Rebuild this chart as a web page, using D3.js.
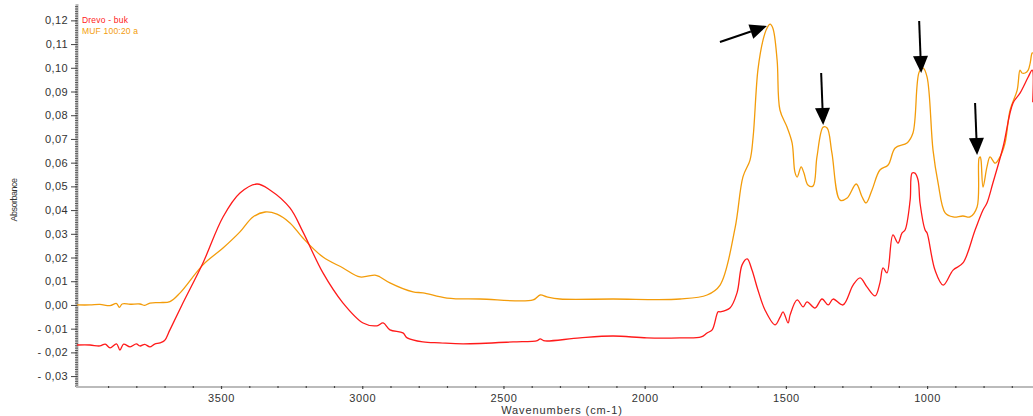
<!DOCTYPE html>
<html>
<head>
<meta charset="utf-8">
<script src="https://cdn.jsdelivr.net/npm/d3@7"></script>
<style>
  html, body { margin: 0; padding: 0; background: #fff; }
  svg { display: block; }
  text { font-family: "Liberation Sans", Arial, sans-serif; }
</style>
</head>
<body>
<svg id="chart" width="1033" height="416"></svg>
<script>
// IR spectra: wavenumber (cm-1) and absorbance
const seriesNames = ["Drevo - buk", "MUF 100:20 a"];
const seriesColors = ["#ff1a1a", "#f39c0a"];

const bukWavenumber = [4010, 3964, 3929, 3910, 3893, 3870, 3858, 3845, 3822, 3800, 3787, 3770, 3752, 3735, 3716, 3700, 3681, 3635, 3564, 3493, 3433, 3373, 3327, 3256, 3210, 3139, 3068, 2997, 2948, 2926, 2902, 2856, 2841, 2785, 2725, 2643, 2466, 2380, 2370, 2358, 2346, 2229, 2112, 1992, 1875, 1800, 1779, 1761, 1740, 1733, 1698, 1673, 1655, 1637, 1620, 1599, 1574, 1538, 1520, 1510, 1492, 1485, 1460, 1439, 1425, 1397, 1372, 1350, 1333, 1298, 1262, 1237, 1213, 1184, 1167, 1156, 1142, 1121, 1103, 1089, 1078, 1060, 1053, 1043, 1032, 1025, 1007, 1000, 972, 943, 908, 873, 830, 802, 788, 767, 731, 696, 671, 642, 628, 626];
const bukAbsorbance = [-0.0169, -0.0169, -0.0173, -0.0165, -0.0181, -0.0164, -0.0190, -0.0165, -0.0177, -0.0164, -0.0173, -0.0166, -0.0177, -0.0165, -0.0160, -0.0150, -0.0105, 0.0008, 0.0177, 0.0371, 0.0472, 0.0510, 0.0485, 0.0409, 0.0308, 0.0135, 0.0008, -0.0076, -0.0088, -0.0076, -0.0105, -0.0118, -0.0139, -0.0156, -0.0160, -0.0164, -0.0156, -0.0150, -0.0143, -0.0150, -0.0152, -0.0139, -0.0131, -0.0139, -0.0139, -0.0135, -0.0118, -0.0105, -0.0029, -0.0029, -0.0013, 0.0051, 0.0169, 0.0194, 0.0147, 0.0063, -0.0021, -0.0084, -0.0050, -0.0029, -0.0076, -0.0042, 0.0021, -0.0008, 0.0013, -0.0013, 0.0025, 0.0000, 0.0025, 0.0000, 0.0084, 0.0114, 0.0076, 0.0038, 0.0093, 0.0156, 0.0135, 0.0295, 0.0261, 0.0303, 0.0316, 0.0442, 0.0556, 0.0556, 0.0527, 0.0430, 0.0316, 0.0303, 0.0147, 0.0084, 0.0147, 0.0177, 0.0316, 0.0400, 0.0430, 0.0514, 0.0666, 0.0851, 0.0893, 0.0961, 0.0990, 0.0855];

const mufWavenumber = [4010, 3964, 3929, 3893, 3870, 3860, 3850, 3822, 3787, 3770, 3752, 3716, 3681, 3645, 3564, 3493, 3433, 3387, 3344, 3302, 3256, 3210, 3139, 3068, 3008, 2955, 2937, 2902, 2820, 2785, 2700, 2583, 2395, 2370, 2346, 2300, 2112, 1875, 1779, 1733, 1680, 1652, 1627, 1616, 1599, 1581, 1567, 1556, 1546, 1531, 1521, 1496, 1478, 1468, 1460, 1446, 1436, 1422, 1404, 1390, 1368, 1354, 1337, 1308, 1283, 1251, 1230, 1216, 1195, 1167, 1138, 1113, 1071, 1050, 1028, 1014, 1000, 979, 961, 936, 908, 873, 848, 823, 816, 812, 809, 802, 788, 777, 759, 742, 724, 706, 681, 671, 664, 653, 642, 635, 628, 625];
const mufAbsorbance = [0.0000, 0.0000, 0.0002, -0.0003, 0.0006, -0.0010, 0.0004, 0.0003, 0.0004, -0.0002, 0.0008, 0.0010, 0.0014, 0.0051, 0.0169, 0.0240, 0.0308, 0.0371, 0.0392, 0.0383, 0.0346, 0.0282, 0.0202, 0.0156, 0.0118, 0.0126, 0.0118, 0.0093, 0.0055, 0.0051, 0.0029, 0.0025, 0.0021, 0.0042, 0.0034, 0.0025, 0.0025, 0.0025, 0.0042, 0.0084, 0.0324, 0.0540, 0.0611, 0.0708, 0.0991, 0.1117, 0.1167, 0.1184, 0.1167, 0.1032, 0.0822, 0.0750, 0.0683, 0.0560, 0.0539, 0.0582, 0.0556, 0.0506, 0.0501, 0.0624, 0.0750, 0.0746, 0.0641, 0.0442, 0.0451, 0.0510, 0.0455, 0.0430, 0.0485, 0.0569, 0.0590, 0.0662, 0.0683, 0.0725, 0.0982, 0.0999, 0.0961, 0.0653, 0.0514, 0.0388, 0.0371, 0.0375, 0.0371, 0.0413, 0.0619, 0.0624, 0.0611, 0.0497, 0.0582, 0.0624, 0.0598, 0.0624, 0.0683, 0.0822, 0.0906, 0.0990, 0.0978, 0.0978, 0.0990, 0.1020, 0.1062, 0.1062];

// Peaks marked with arrows (tip position in data units)
const arrowWavenumber = [1567, 1368, 1021, 823];
const arrowAbsorbance = [0.1176, 0.0759, 0.0978, 0.0632];

// Axis ticks
const yTickValues = [0.12, 0.11, 0.10, 0.09, 0.08, 0.07, 0.06, 0.05, 0.04, 0.03, 0.02, 0.01, 0.00, -0.01, -0.02, -0.03];
const xTickValues = [3500, 3000, 2500, 2000, 1500, 1000];

const svg = d3.select("#chart");
const plotLeft = 77, plotRight = 1033, plotTop = 4, plotBottom = 387;

const x = d3.scaleLinear().domain([4010, 625]).range([plotLeft, plotRight]);
const y = d3.scaleLinear().domain([-0.0346, 0.1269]).range([plotBottom, plotTop]);

const commaFmt = d3.formatLocale({ decimal: ",", thousands: ".", grouping: [3], currency: ["", ""], minus: "-" }).format(".2f");

// clip the spectra to the plot area
svg.append("defs").append("clipPath").attr("id", "plotClip")
  .append("rect").attr("x", plotLeft).attr("y", 0).attr("width", plotRight - plotLeft).attr("height", plotBottom);

// Y axis: ruler with minor ticks every 0.001
const yMinor = d3.range(-34, 127).map(i => i / 1000);
svg.append("line")
  .attr("x1", plotLeft).attr("x2", plotLeft).attr("y1", plotTop).attr("y2", plotBottom)
  .attr("stroke", "#bbb").attr("stroke-width", 3);

svg.append("g")
  .attr("transform", `translate(${plotLeft + 1},0)`)
  .call(d3.axisLeft(y).tickValues(yMinor).tickSize(3).tickFormat(""))
  .call(g => g.select(".domain").remove())
  .call(g => g.selectAll("line").attr("stroke", "#555").attr("stroke-width", 1));

svg.append("g")
  .attr("transform", `translate(${plotLeft},0)`)
  .call(d3.axisLeft(y).tickValues(yTickValues).tickSize(6).tickPadding(3).tickFormat(commaFmt))
  .call(g => g.select(".domain").remove())
  .call(g => g.selectAll("line").attr("stroke", "#444").attr("stroke-width", 1))
  .call(g => g.selectAll("text")
    .attr("fill", "#333").attr("font-size", 11)
    .style("letter-spacing", "0.4px")
    .text(d => commaFmt(d).replace("-", "- ")));

// X axis
svg.append("line")
  .attr("x1", plotLeft - 1).attr("x2", plotRight).attr("y1", plotBottom).attr("y2", plotBottom)
  .attr("stroke", "#bbb").attr("stroke-width", 2);

const xMinor = d3.range(700, 4001, 100).filter(v => v % 500 !== 0);
svg.append("g")
  .attr("transform", `translate(0,${plotBottom - 1})`)
  .call(d3.axisBottom(x).tickValues(xMinor).tickSize(2).tickFormat(""))
  .call(g => g.select(".domain").remove())
  .call(g => g.selectAll("line").attr("stroke", "#444").attr("stroke-width", 1.2));

svg.append("g")
  .attr("transform", `translate(0,${plotBottom - 1})`)
  .call(d3.axisBottom(x).tickValues(xTickValues).tickSize(3).tickPadding(5).tickFormat(d3.format("d")))
  .call(g => g.select(".domain").remove())
  .call(g => g.selectAll("line").attr("stroke", "#444").attr("stroke-width", 1.2))
  .call(g => g.selectAll("text").attr("fill", "#333").attr("font-size", 11).style("letter-spacing", "0.6px"));

// Axis titles
svg.append("text")
  .attr("x", 562).attr("y", 414)
  .attr("text-anchor", "middle")
  .attr("font-size", 11).attr("fill", "#333")
  .style("letter-spacing", "0.9px")
  .text("Wavenumbers (cm-1)");

svg.append("text")
  .attr("transform", "translate(17,200) rotate(-90)")
  .attr("text-anchor", "middle")
  .attr("font-size", 9).attr("fill", "#333")
  .style("letter-spacing", "-0.5px")
  .text("Absorbance");

// Spectra
const line = d3.line()
  .x(d => x(d[0]))
  .y(d => y(d[1]))
  .curve(d3.curveCatmullRom.alpha(0.5));
const series = [
  d3.zip(mufWavenumber, mufAbsorbance),
  d3.zip(bukWavenumber, bukAbsorbance)
];
const seriesColorOrder = [seriesColors[1], seriesColors[0]];
svg.append("g").attr("clip-path", "url(#plotClip)")
  .selectAll("path")
  .data(series)
  .join("path")
  .attr("d", line)
  .attr("fill", "none")
  .attr("stroke", (d, i) => seriesColorOrder[i])
  .attr("stroke-width", 1.3)
  .attr("stroke-linejoin", "round");

// Legend
svg.append("g")
  .selectAll("text")
  .data(seriesNames)
  .join("text")
  .attr("x", 82)
  .attr("y", (d, i) => 23 + i * 10.5)
  .attr("font-size", 8.5)
  .attr("fill", (d, i) => seriesColors[i])
  .style("letter-spacing", "0.2px")
  .text(d => d);

// Arrows pointing at characteristic bands
const arrowTail = [[-47, 16], [-2, -52], [-2, -52], [-2, -52]];
const arrows = svg.append("g");
arrowWavenumber.forEach((w, i) => {
  const tx = x(w), ty = y(arrowAbsorbance[i]);
  const sx = tx + arrowTail[i][0], sy = ty + arrowTail[i][1];
  const ang = Math.atan2(ty - sy, tx - sx);
  const headLen = 17, headHalf = 7.5;
  const bx = tx - headLen * Math.cos(ang), by = ty - headLen * Math.sin(ang);
  const px = -Math.sin(ang) * headHalf, py = Math.cos(ang) * headHalf;
  arrows.append("line")
    .attr("x1", sx).attr("y1", sy).attr("x2", bx).attr("y2", by)
    .attr("stroke", "#000").attr("stroke-width", 2);
  arrows.append("path")
    .attr("d", `M${tx},${ty}L${bx + px},${by + py}L${bx - px},${by - py}Z`)
    .attr("fill", "#000");
});
</script>
</body>
</html>
